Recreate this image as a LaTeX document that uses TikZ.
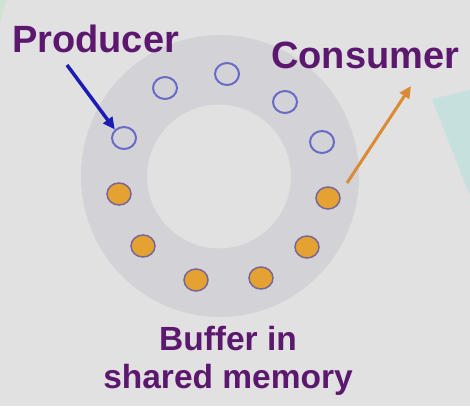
\documentclass[tikz,border=0pt]{standalone}
\usepackage{fontspec}
\setmainfont{Liberation Sans}
\usetikzlibrary{arrows.meta,shapes.geometric}
\definecolor{bgc}{HTML}{E1E1E1}
\definecolor{ringc}{HTML}{D3D3D7}
\definecolor{txtc}{HTML}{5C176E}
\definecolor{bluec}{HTML}{1C1CB4}
\definecolor{orangec}{HTML}{DB8A35}
\definecolor{emptyc}{HTML}{6A6AC6}
\definecolor{fillc}{HTML}{E6A133}
\definecolor{fedge}{HTML}{7A6694}
\definecolor{cyanc}{HTML}{C6E0DD}
\definecolor{greenc}{HTML}{CFE3D2}
\tikzset{
  slot/.style={ellipse, minimum width=24pt, minimum height=22pt, inner sep=0pt, line width=2pt},
  emptyslot/.style={slot, draw=emptyc, fill=ringc},
  fullslot/.style={slot, draw=fedge, fill=fillc, line width=1.5pt},
  lbl/.style={text=txtc, font=\bfseries, inner sep=0pt},
  arr/.style={line width=3.5pt, -{Triangle[length=12pt,width=11pt]}}
}
\begin{document}
\begin{tikzpicture}[x=1pt,y=-1pt]
\useasboundingbox (0,0) rectangle (470,406);
\fill[bgc] (0,0) rectangle (470,406);
\fill[cyanc] (432,99) -- (470,90) -- (470,196) -- cycle;
\fill[greenc] (0,0) -- (7,0) -- (0,22) -- cycle;
\fill[ringc, even odd rule] (220,176) circle[x radius=139, y radius=141] (219,176.5) circle (72);
% empty slots
\node[emptyslot] (e1) at (124,138) {};
\node[emptyslot] (e2) at (165,88) {};
\node[emptyslot] (e3) at (227,74) {};
\node[emptyslot] (e4) at (285,102) {};
\node[emptyslot] (e5) at (322,142) {};
% full slots
\node[fullslot] (f1) at (119,194) {};
\node[fullslot] (f2) at (143,246) {};
\node[fullslot] (f3) at (196,280) {};
\node[fullslot] (f4) at (261,278) {};
\node[fullslot] (f5) at (307,247) {};
\node[fullslot] (f6) at (328,198) {};
% labels
\node[lbl, anchor=base west, font=\fontsize{38}{41}\selectfont\bfseries] (prod) at (12,53) {Producer};
\node[lbl, anchor=base west, font=\fontsize{38}{41}\selectfont\bfseries] (cons) at (271,69) {Consumer};
\node[lbl, anchor=base, align=center, font=\fontsize{33.5}{38}\selectfont\bfseries] (buf) at (228,388) {Buffer in\\shared memory};
% arrows
\coordinate (ps) at (67,65);
\coordinate (cs) at (347,183);
\coordinate (ce) at (411,86);
\draw[arr, bluec] (ps) -- (e1.north west);
\draw[arr, orangec, line width=3pt] (cs) -- (ce);
\end{tikzpicture}
\end{document}
